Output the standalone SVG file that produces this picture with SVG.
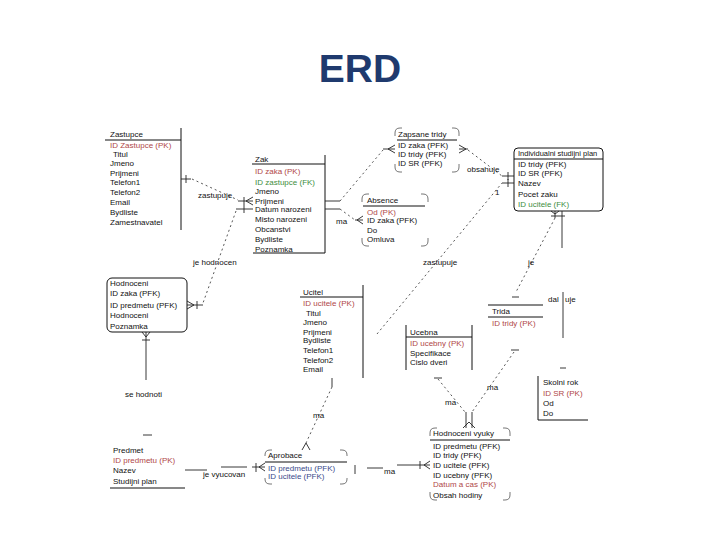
<svg xmlns="http://www.w3.org/2000/svg" width="720" height="540" viewBox="0 0 720 540">
<style>
text{font-family:"Liberation Sans",Arial,sans-serif;font-size:8px;fill:#111}
.t{font-size:39px;font-weight:bold;fill:#1f3a6e}
.pk{fill:#b04848}
.fk{fill:#3e8e3e}
.ap{fill:#3a4a8a}
.ln{stroke:#111;stroke-width:1;fill:none}
.cn{stroke:#222;stroke-width:0.9;fill:none}
.dt{stroke:#444;stroke-width:0.9;fill:none;stroke-dasharray:2 3}
.cr{stroke:#666;stroke-width:0.9;fill:none}
</style>
<rect width="720" height="540" fill="#fff"/>
<text class="t" x="360" y="82" text-anchor="middle">ERD</text>

<g id="zastupce">
<path class="ln" d="M181 128V230M105 140H181"/>
<text x="110" y="137">Zastupce</text>
<text x="110" y="148" class="pk">ID Zastupce (PK)</text>
<text x="113" y="157">Titul</text>
<text x="110" y="166">Jmeno</text>
<text x="110" y="176">Prijmeni</text>
<text x="110" y="185">Telefon1</text>
<text x="110" y="195">Telefon2</text>
<text x="110" y="205">Email</text>
<text x="110" y="215">Bydliste</text>
<text x="110" y="225">Zamestnavatel</text>
</g>

<g id="zak">
<path class="ln" d="M325 155V253M252 164H325M253 253H325"/>
<text x="255" y="162">Zak</text>
<text x="255" y="174" class="pk">ID zaka (PK)</text>
<text x="255" y="185" class="fk">ID zastupce (FK)</text>
<text x="255" y="194">Jmeno</text>
<text x="255" y="204">Prijmeni</text>
<text x="255" y="212">Datum narozeni</text>
<text x="255" y="222">Misto narozeni</text>
<text x="255" y="232">Obcanstvi</text>
<text x="255" y="242">Bydliste</text>
<text x="255" y="252">Poznamka</text>
</g>

<g id="zapsane-tridy">
<path class="cr" d="M395 136V133Q395 128 400 128H402M452 128H454Q459 128 459 133V136M459 164V167Q459 172 454 172H452M402 172H400Q395 172 395 167V164"/>
<path class="ln" d="M397 140H457"/>
<text x="398" y="137">Zapsane tridy</text>
<text x="398" y="148">ID zaka (PFK)</text>
<text x="398" y="157">ID tridy (PFK)</text>
<text x="398" y="166">ID SR (PFK)</text>
</g>

<g id="individualni-plan">
<rect class="ln" x="514" y="148" width="89" height="63" rx="4"/>
<path class="ln" d="M514 159H603"/>
<text x="518" y="156" style="font-size:7.5px">Individualni studijni plan</text>
<text x="518" y="167">ID tridy (PFK)</text>
<text x="518" y="176">ID SR (PFK)</text>
<text x="518" y="186">Nazev</text>
<text x="518" y="197">Pocet zaku</text>
<text x="518" y="207" class="fk">ID ucitele (FK)</text>
</g>

<g id="absence">
<path class="cr" d="M362 202V199Q362 194 367 194H369M421 194H423Q428 194 428 199V202M428 238V241Q428 246 423 246H421M369 246H367Q362 246 362 241V238"/>
<path class="ln" d="M363 206H425"/>
<text x="367" y="203">Absence</text>
<text x="367" y="215" class="pk">Od (PK)</text>
<text x="367" y="223">ID zaka (PFK)</text>
<text x="367" y="233">Do</text>
<text x="367" y="242">Omluva</text>
</g>

<g id="hodnoceni">
<rect class="ln" x="107" y="278" width="80" height="54" rx="5"/>
<text x="110" y="286">Hodnoceni</text>
<text x="110" y="296">ID zaka (PFK)</text>
<text x="110" y="308">ID predmetu (PFK)</text>
<text x="110" y="318">Hodnoceni</text>
<text x="110" y="329">Poznamka</text>
</g>

<g id="ucitel">
<path class="ln" d="M363 285V378M300 297H363"/>
<text x="303" y="295">Ucitel</text>
<text x="303" y="306" class="pk">ID ucitele (PK)</text>
<text x="306" y="316">Titul</text>
<text x="303" y="325">Jmeno</text>
<text x="303" y="335">Prijmeni</text>
<text x="303" y="343">Bydliste</text>
<text x="303" y="353">Telefon1</text>
<text x="303" y="363">Telefon2</text>
<text x="303" y="372">Email</text>
</g>

<g id="trida">
<path class="ln" d="M488 305H543M488 317H543"/>
<text x="492" y="314">Trida</text>
<text x="492" y="326" class="pk">ID tridy (PK)</text>
</g>

<g id="ucebna">
<path class="ln" d="M406 325V370M472 325V370M406 337H472"/>
<text x="410" y="335">Ucebna</text>
<text x="410" y="346" class="pk">ID ucebny (PK)</text>
<text x="410" y="356">Specifikace</text>
<text x="410" y="365">Cislo dveri</text>
</g>

<g id="skolni-rok">
<path class="ln" d="M538 376V420H588"/>
<text x="543" y="385">Skolni rok</text>
<text x="543" y="396" class="pk">ID SR (PK)</text>
<text x="543" y="406">Od</text>
<text x="543" y="416">Do</text>
</g>

<g id="predmet">
<path class="ln" d="M110 488H185"/>
<text x="113" y="453">Predmet</text>
<text x="113" y="463" class="pk">ID predmetu (PK)</text>
<text x="113" y="473">Nazev</text>
<text x="113" y="484">Studijni plan</text>
</g>

<g id="aprobace">
<path class="cr" d="M265 456V455Q265 450 270 450H272M340 450H342Q347 450 347 455V456M347 478V479Q347 484 342 484H340M272 484H270Q265 484 265 479V478"/>
<path class="ln" d="M265 462H347"/>
<text x="268" y="458">Aprobace</text>
<text x="268" y="471" class="ap">ID predmetu (PFK)</text>
<text x="268" y="479" class="ap">ID ucitele (PFK)</text>
</g>

<g id="hodnoceni-vyuky">
<path class="cr" d="M430 436V433Q430 428 435 428H437M503 428H505Q510 428 510 433V436M510 492V495Q510 500 505 500H503M437 500H435Q430 500 430 495V492"/>
<path class="ln" d="M430 440H510"/>
<text x="433" y="436">Hodnoceni vyuky</text>
<text x="433" y="449">ID predmetu (PFK)</text>
<text x="433" y="458">ID tridy (PFK)</text>
<text x="433" y="468">ID ucitele (PFK)</text>
<text x="433" y="478">ID ucebny (PFK)</text>
<text x="433" y="487" class="pk">Datum a cas (PK)</text>
<text x="433" y="498">Obsah hodiny</text>
</g>

<g id="connectors">
<!-- Zastupce - Zak -->
<path class="cn" d="M181 179H191M186 175V183"/>
<path class="dt" d="M192 179L238 200"/>
<path class="cn" d="M238 201H253M244 197V205M246 201L253 197M246 201L253 205"/>
<text x="198" y="198">zastupuje</text>
<!-- Hodnoceni - Zak -->
<path class="cn" d="M236 209H253M244 205V213"/>
<path class="dt" d="M236 211L203 303"/>
<path class="cn" d="M187 305H203M197 301V309M194 305L187 301M194 305L187 309"/>
<text x="193" y="265">je hodnocen</text>
<!-- Zak - Zapsane tridy -->
<path class="cn" d="M325 201H340"/>
<path class="dt" d="M340 201L383 150"/>
<path class="cn" d="M383 149H395M388 149L395 145M388 149L395 153"/>
<!-- Zak - Absence -->
<path class="cn" d="M325 209H340"/>
<path class="dt" d="M340 209L355 220"/>
<path class="cn" d="M355 220H363M357 220L363 216M357 220L363 224"/>
<text x="336" y="224">ma</text>
<!-- Zapsane tridy - Individualni plan -->
<path class="cn" d="M459 149H468M466 149L459 145M466 149L459 153"/>
<path class="dt" d="M468 150L502 176"/>
<path class="cn" d="M502 176H514M508 172V180"/>
<text x="467" y="172">obsahuje</text>
<!-- Ucitel - Individualni plan -->
<path class="dt" d="M377 334L502 183"/>
<path class="cn" d="M502 183H514M508 179V187"/>
<text x="495" y="195">1</text>
<text x="423" y="265">zastupuje</text>
<!-- Individualni plan - Trida -->
<path class="cn" d="M555 211V218M551 216H559M555 214L551 211M555 214L559 211"/>
<path class="dt" d="M555 218L516 292"/>
<path class="cn" d="M512 297H519"/>
<text x="528" y="265">je</text>
<!-- Individualni plan - Skolni rok -->
<path class="cn" d="M562 211V248M559 216H565M563 292V338M560 368H566"/>
<text x="548" y="302">dal</text>
<text x="565" y="302">uje</text>
<!-- Hodnoceni - Predmet -->
<path class="cn" d="M146 332V380M142 340H150M146 337L142 332M146 337L150 332M143 435H152"/>
<text x="125" y="397">se hodnoti</text>
<!-- Predmet - Aprobace -->
<path class="cn" d="M185 470H207M221 467H247"/>
<text x="203" y="477">je vyucovan</text>
<path class="cn" d="M256 463V472M259 467L265 463M259 467L265 471M252 467H265"/>
<!-- Ucitel - Aprobace -->
<path class="cn" d="M332 378V387"/>
<path class="dt" d="M332 387L306 443"/>
<path class="cn" d="M306 443L302 450M306 443L310 450"/>
<text x="313" y="418">ma</text>
<!-- Aprobace - Hodnoceni vyuky -->
<path class="cn" d="M355 465V474M367 468H383M397 465H430M424 465L430 461M424 465L430 469M420 461V469"/>
<text x="384" y="474">ma</text>
<!-- Ucebna - Hodnoceni vyuky -->
<path class="cn" d="M434 378H442"/>
<path class="dt" d="M438 379L465 412"/>
<path class="cn" d="M466 412V428"/>
<text x="445" y="405">ma</text>
<!-- Trida - Hodnoceni vyuky -->
<path class="cn" d="M511 350H519"/>
<path class="dt" d="M514 352L472 412"/>
<path class="cn" d="M472 412V428M469 422L463 428M469 422L475 428"/>
<text x="487" y="390">ma</text>
</g>
</svg>
